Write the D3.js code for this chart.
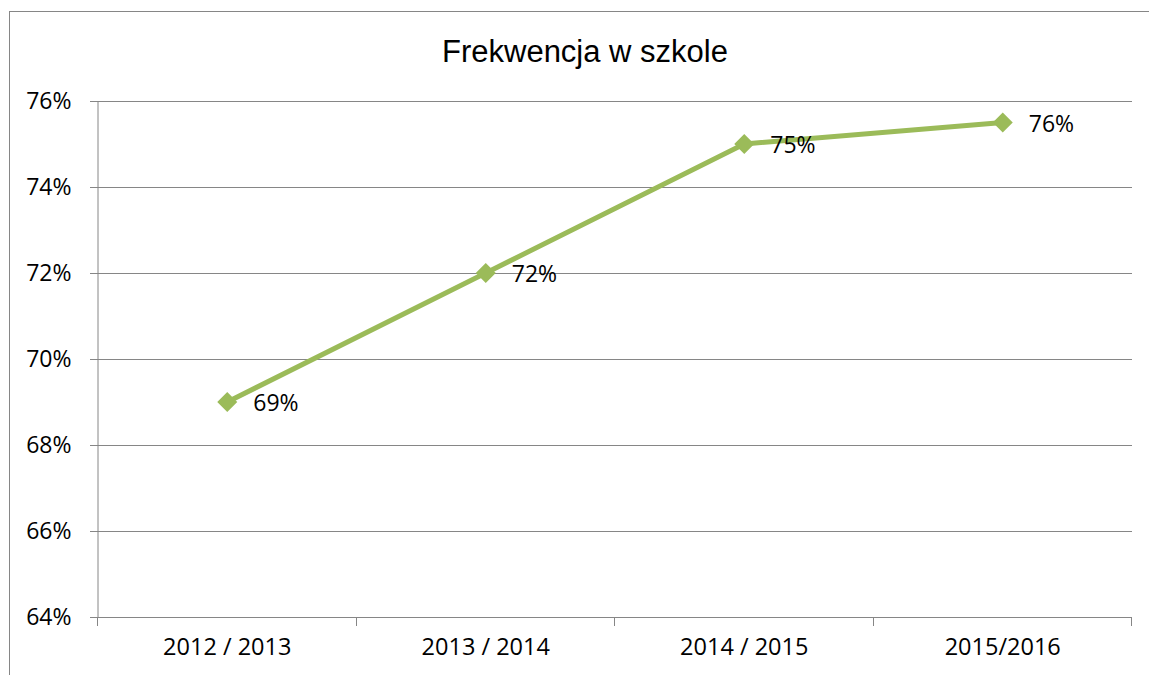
<!DOCTYPE html>
<html>
<head>
<meta charset="utf-8">
<script src="https://cdn.jsdelivr.net/npm/d3@7"></script>
<style>
  html, body { margin: 0; padding: 0; background: #fff; }
  svg { display: block; }
</style>
</head>
<body>
<div id="chart"></div>
<script>
const title = 'Frekwencja w szkole';
const categories = ['2012 / 2013', '2013 / 2014', '2014 / 2015', '2015/2016'];
const values = [0.69, 0.72, 0.75, 0.755];
const labels = ['69%', '72%', '75%', '76%'];
const yTicks = [0.64, 0.66, 0.68, 0.70, 0.72, 0.74, 0.76];

const width = 1149, height = 675;
const margin = { left: 98, right: 17, top: 101, bottom: 58 };
const gridColor = '#868686';
const lineColor = '#9bbb59';
const labelFont = '"Open Sans", sans-serif';

const svg = d3.select('#chart').append('svg')
  .attr('width', width)
  .attr('height', height);

// outer frame
svg.append('rect')
  .attr('x', 9.5).attr('y', 11.5)
  .attr('width', width).attr('height', height)
  .attr('fill', 'none')
  .attr('stroke', gridColor);

const x = d3.scaleBand()
  .domain(categories)
  .range([margin.left, width - margin.right]);

const y = d3.scaleLinear()
  .domain([0.64, 0.76])
  .range([height - margin.bottom, margin.top]);

svg.append('text')
  .attr('x', 585).attr('y', 62)
  .attr('text-anchor', 'middle')
  .style('font-family', '"Liberation Sans", Arial, sans-serif')
  .style('font-size', '31px')
  .text(title);

// grid
svg.append('g')
  .selectAll('line')
  .data(yTicks)
  .join('line')
  .attr('x1', margin.left - 8)
  .attr('x2', width - margin.right)
  .attr('y1', d => Math.round(y(d)) + 0.5)
  .attr('y2', d => Math.round(y(d)) + 0.5)
  .attr('stroke', gridColor);

// y axis
const yAxis = svg.append('g')
  .attr('transform', `translate(${margin.left - 0.5},0)`)
  .call(d3.axisLeft(y).tickValues(yTicks).tickFormat(d3.format('.0%')).tickSize(0).tickPadding(26));
yAxis.select('.domain').attr('stroke', gridColor);
yAxis.selectAll('text')
  .style('font-family', labelFont)
  .style('font-size', '23px')
  .attr('fill', '#000');

// x axis
const xAxis = svg.append('g')
  .attr('transform', `translate(0,${Math.round(y(0.64)) + 0.5})`)
  .call(d3.axisBottom(x).tickSize(0).tickPadding(21));
xAxis.select('.domain').remove();
xAxis.selectAll('text')
  .style('font-family', labelFont)
  .style('font-size', '23.5px')
  .attr('fill', '#000');

const bounds = categories.map(c => x(c)).concat([x(categories[categories.length - 1]) + x.bandwidth()]);
svg.append('g')
  .selectAll('line')
  .data(bounds)
  .join('line')
  .attr('x1', d => Math.round(d) - 0.5)
  .attr('x2', d => Math.round(d) - 0.5)
  .attr('y1', y(0.64))
  .attr('y2', y(0.64) + 9)
  .attr('stroke', gridColor);

const cx = c => x(c) + x.bandwidth() / 2;

svg.append('path')
  .datum(values)
  .attr('fill', 'none')
  .attr('stroke', lineColor)
  .attr('stroke-width', 5)
  .attr('stroke-linejoin', 'round')
  .attr('d', d3.line().x((d, i) => cx(categories[i])).y(d => y(d)));

svg.append('g')
  .selectAll('path')
  .data(values)
  .join('path')
  .attr('transform', (d, i) => `translate(${cx(categories[i])},${y(d)}) rotate(45)`)
  .attr('d', d3.symbol(d3.symbolSquare, 200))
  .attr('fill', lineColor);

svg.append('g')
  .selectAll('text')
  .data(values)
  .join('text')
  .attr('x', (d, i) => cx(categories[i]) + 26)
  .attr('y', d => y(d) + 9)
  .style('font-family', labelFont)
  .style('font-size', '23px')
  .text((d, i) => labels[i]);
</script>
</body>
</html>
